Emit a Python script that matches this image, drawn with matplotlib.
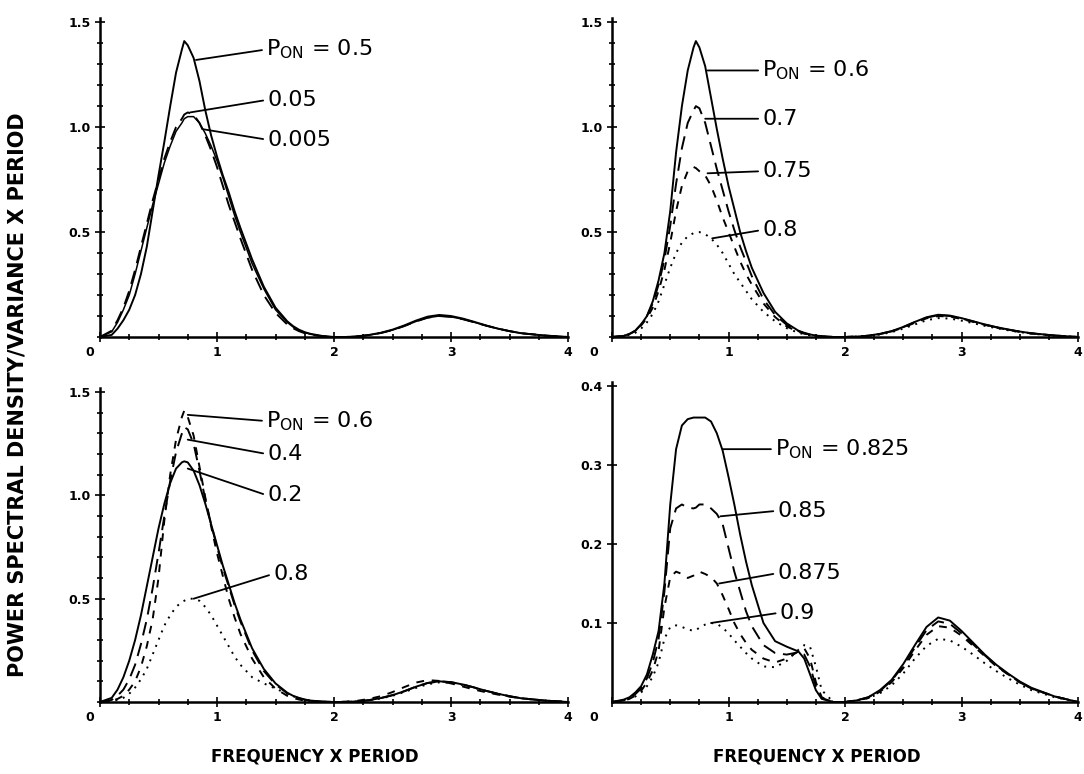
import matplotlib
matplotlib.use("Agg")
import matplotlib.pyplot as plt
import matplotlib.transforms as mtransforms
from matplotlib.ticker import MultipleLocator

plt.rcParams['font.family'] = ['DejaVu Sans']

# ---------------- data ----------------
F_LOW = [0, 0.1, 0.15, 0.2, 0.25, 0.3, 0.35, 0.4, 0.45, 0.5,
         0.55, 0.6, 0.65, 0.7, 0.72, 0.75, 0.8, 0.85, 0.9, 0.95,
         1.0, 1.05, 1.1, 1.15, 1.2, 1.3, 1.4, 1.5, 1.6, 1.65,
         1.7, 1.75, 1.8, 1.9, 2.0]
F_HIGH = [2.1, 2.2, 2.3, 2.4, 2.5, 2.6, 2.7, 2.8, 2.9, 3.0,
          3.1, 3.2, 3.3, 3.4, 3.5, 3.6, 3.8, 4.0]

# top-left panel
TL_05_LOW = [0, 0.01, 0.04, 0.08, 0.13, 0.2, 0.3, 0.43, 0.6, 0.77,
             0.93, 1.1, 1.26, 1.37, 1.41, 1.39, 1.33, 1.22, 1.08, 0.96,
             0.86, 0.77, 0.69, 0.6, 0.52, 0.37, 0.24, 0.14, 0.075, 0.052,
             0.035, 0.023, 0.015, 0.005, 0]
TL_05_HIGH = [0, 0.003, 0.01, 0.02, 0.035, 0.055, 0.078, 0.097, 0.105, 0.1,
              0.088, 0.072, 0.055, 0.04, 0.028, 0.018, 0.007, 0]
TL_005_LOW = [0, 0.025, 0.07, 0.13, 0.2, 0.3, 0.41, 0.52, 0.63, 0.73,
              0.83, 0.91, 0.98, 1.02, 1.04, 1.05, 1.05, 1.02, 0.97, 0.91,
              0.84, 0.76, 0.67, 0.58, 0.5, 0.35, 0.23, 0.13, 0.07, 0.048,
              0.032, 0.021, 0.013, 0.004, 0]
TL_005_HIGH = [0, 0.003, 0.009, 0.019, 0.033, 0.052, 0.074, 0.092, 0.1, 0.096,
               0.085, 0.07, 0.054, 0.04, 0.028, 0.018, 0.007, 0]
TL_05B_LOW = [0, 0.03, 0.08, 0.14, 0.22, 0.32, 0.43, 0.54, 0.65, 0.75,
              0.85, 0.93, 1.0, 1.04, 1.06, 1.07, 1.06, 1.02, 0.96, 0.89,
              0.81, 0.72, 0.63, 0.55, 0.47, 0.32, 0.2, 0.115, 0.06, 0.042,
              0.028, 0.018, 0.011, 0.003, 0]
TL_05B_HIGH = [0, 0.003, 0.009, 0.019, 0.033, 0.052, 0.074, 0.092, 0.1, 0.096,
               0.085, 0.07, 0.054, 0.04, 0.028, 0.018, 0.007, 0]

# top-right panel (also P_ON = 0.6 in bottom-left)
P06_LOW = [0, 0.005, 0.015, 0.03, 0.06, 0.1, 0.17, 0.27, 0.4, 0.6,
           0.88, 1.1, 1.27, 1.38, 1.41, 1.38, 1.29, 1.14, 0.99, 0.85,
           0.72, 0.61, 0.5, 0.41, 0.33, 0.21, 0.12, 0.065, 0.03, 0.02,
           0.012, 0.007, 0.004, 0, 0]
P06_HIGH = [0.002, 0.006, 0.015, 0.028, 0.048, 0.072, 0.094, 0.106, 0.102, 0.09,
            0.075, 0.06, 0.047, 0.036, 0.026, 0.018, 0.007, 0]
TR_07_LOW = [0, 0.005, 0.015, 0.03, 0.06, 0.1, 0.16, 0.25, 0.37, 0.53,
             0.73, 0.9, 1.02, 1.08, 1.1, 1.09, 1.02, 0.91, 0.8, 0.7,
             0.6, 0.51, 0.43, 0.36, 0.29, 0.18, 0.105, 0.058, 0.028, 0.018,
             0.011, 0.006, 0.003, 0, 0]
TR_07_HIGH = [0.002, 0.006, 0.015, 0.027, 0.047, 0.071, 0.092, 0.104, 0.1, 0.088,
              0.074, 0.059, 0.046, 0.035, 0.025, 0.017, 0.007, 0]
TR_075_LOW = [0, 0.005, 0.014, 0.028, 0.055, 0.09, 0.14, 0.22, 0.32, 0.45,
              0.6, 0.72, 0.79, 0.81, 0.805, 0.79, 0.77, 0.72, 0.65, 0.57,
              0.5, 0.43, 0.36, 0.3, 0.25, 0.16, 0.095, 0.05, 0.025, 0.016,
              0.01, 0.006, 0.003, 0, 0]
TR_075_HIGH = [0.002, 0.006, 0.014, 0.026, 0.045, 0.068, 0.089, 0.1, 0.097, 0.086,
               0.072, 0.058, 0.045, 0.034, 0.025, 0.017, 0.007, 0]
TR_08_LOW = [0, 0.003, 0.01, 0.02, 0.04, 0.07, 0.11, 0.17, 0.25, 0.33,
             0.4, 0.45, 0.48, 0.495, 0.5, 0.5, 0.49, 0.47, 0.44, 0.4,
             0.35, 0.3, 0.26, 0.22, 0.18, 0.12, 0.075, 0.042, 0.02, 0.013,
             0.008, 0.005, 0.002, 0, 0]
TR_08_HIGH = [0.002, 0.005, 0.012, 0.023, 0.04, 0.06, 0.08, 0.09, 0.088, 0.078,
              0.066, 0.053, 0.042, 0.032, 0.023, 0.016, 0.006, 0]

# bottom-left panel
BL_02_LOW = [0, 0.02, 0.06, 0.12, 0.2, 0.3, 0.42, 0.56, 0.7, 0.84,
             0.96, 1.06, 1.13, 1.16, 1.165, 1.16, 1.12, 1.05, 0.96, 0.86,
             0.76, 0.66, 0.57, 0.48, 0.4, 0.26, 0.16, 0.09, 0.045, 0.03,
             0.02, 0.012, 0.007, 0.002, 0]
BL_02_HIGH = [0, 0.003, 0.009, 0.019, 0.033, 0.052, 0.074, 0.092, 0.1, 0.096,
              0.085, 0.07, 0.054, 0.04, 0.028, 0.018, 0.007, 0]
BL_04_LOW = [0, 0.01, 0.03, 0.06, 0.11, 0.18, 0.28, 0.4, 0.55, 0.72,
             0.9, 1.07, 1.21, 1.3, 1.33, 1.32, 1.25, 1.12, 0.98, 0.86,
             0.75, 0.65, 0.56, 0.47, 0.39, 0.25, 0.15, 0.085, 0.042, 0.028,
             0.018, 0.011, 0.006, 0.002, 0]
BL_04_HIGH = [0, 0.003, 0.009, 0.019, 0.033, 0.052, 0.074, 0.092, 0.1, 0.096,
              0.085, 0.07, 0.054, 0.04, 0.028, 0.018, 0.007, 0]
BL_08_LOW = [0, 0.003, 0.01, 0.02, 0.04, 0.07, 0.11, 0.16, 0.23, 0.3,
             0.37, 0.42, 0.46, 0.485, 0.49, 0.5, 0.5, 0.49, 0.46, 0.42,
             0.37, 0.32, 0.27, 0.22, 0.18, 0.12, 0.09, 0.065, 0.04, 0.028,
             0.018, 0.01, 0.005, 0.001, 0]
BL_08_HIGH = [0, 0.003, 0.008, 0.017, 0.03, 0.048, 0.068, 0.086, 0.095, 0.092,
              0.082, 0.068, 0.053, 0.04, 0.028, 0.018, 0.007, 0]

# bottom-right panel
BR_0825_LOW = [0, 0.003, 0.006, 0.012, 0.02, 0.035, 0.06, 0.09, 0.15, 0.25,
               0.32, 0.35, 0.358, 0.36, 0.36, 0.36, 0.36, 0.355, 0.34, 0.318,
               0.285, 0.25, 0.212, 0.178, 0.148, 0.1, 0.077, 0.07, 0.064, 0.055,
               0.035, 0.015, 0.004, 0, 0]
BR_0825_HIGH = [0.002, 0.006, 0.015, 0.028, 0.048, 0.072, 0.095, 0.107, 0.103, 0.09,
                0.075, 0.06, 0.047, 0.036, 0.026, 0.018, 0.007, 0]
BR_085_LOW = [0, 0.002, 0.005, 0.01, 0.017, 0.03, 0.05, 0.08, 0.14, 0.22,
              0.245, 0.25, 0.246, 0.245, 0.246, 0.25, 0.25, 0.245, 0.238, 0.225,
              0.195, 0.165, 0.14, 0.115, 0.096, 0.072, 0.062, 0.06, 0.063, 0.06,
              0.045, 0.02, 0.005, 0, 0]
BR_085_HIGH = [0.002, 0.006, 0.014, 0.027, 0.046, 0.069, 0.091, 0.102, 0.099, 0.087,
               0.073, 0.059, 0.046, 0.035, 0.025, 0.017, 0.007, 0]
BR_0875_LOW = [0, 0.002, 0.004, 0.008, 0.014, 0.025, 0.04, 0.065, 0.12, 0.158,
               0.165, 0.162, 0.157, 0.16, 0.162, 0.165, 0.162, 0.158, 0.15, 0.135,
               0.118, 0.1, 0.086, 0.075, 0.066, 0.055, 0.05, 0.055, 0.064, 0.068,
               0.055, 0.025, 0.006, 0, 0]
BR_0875_HIGH = [0.002, 0.005, 0.013, 0.025, 0.043, 0.065, 0.085, 0.096, 0.094, 0.084,
                0.071, 0.058, 0.045, 0.035, 0.025, 0.017, 0.007, 0]
BR_09_LOW = [0, 0.002, 0.004, 0.007, 0.012, 0.02, 0.032, 0.05, 0.08, 0.095,
             0.097, 0.095, 0.092, 0.09, 0.091, 0.094, 0.098, 0.1, 0.099, 0.094,
             0.087, 0.078, 0.07, 0.062, 0.055, 0.045, 0.044, 0.052, 0.066, 0.072,
             0.07, 0.045, 0.015, 0, 0]
BR_09_HIGH = [0.002, 0.005, 0.011, 0.021, 0.036, 0.055, 0.071, 0.08, 0.078, 0.07,
              0.06, 0.049, 0.039, 0.03, 0.022, 0.015, 0.006, 0]

X_TICKS = [0, 1, 2, 3, 4]
Y_TICKS_BIG = [0.5, 1.0, 1.5]
Y_TICKS_SMALL = [0.1, 0.2, 0.3, 0.4]

XLABEL = 'FREQUENCY X PERIOD'
YLABEL = 'POWER SPECTRAL DENSITY/VARIANCE X PERIOD'

# ---------------- figure ----------------
W, H = 1084, 774
fig = plt.figure(figsize=(W / 100, H / 100), dpi=100)


def add_ax(x0, y_bot, x1, y_top):
    return fig.add_axes([x0 / W, 1 - y_bot / H, (x1 - x0) / W, (y_bot - y_top) / H])


SOLID = '-'
LONG = (0, (7, 4))
SHORT = (0, (4, 4))
DOT = (0, (1, 3))


def style(ax, ymax, yticks, yminor, zero_shift):
    ax.set_xlim(0, 4)
    ax.set_ylim(0, ymax)
    for s in ('top', 'right'):
        ax.spines[s].set_visible(False)
    for s in ('left', 'bottom'):
        ax.spines[s].set_linewidth(1.8)
    ax.set_xticks(X_TICKS)
    ax.set_xticklabels([str(t) for t in X_TICKS])
    ax.xaxis.set_minor_locator(MultipleLocator(0.25))
    ax.set_yticks(yticks)
    ax.set_yticklabels([f'{t:.1f}' for t in yticks])
    if yminor:
        ax.yaxis.set_minor_locator(MultipleLocator(yminor))
    ax.tick_params(which='both', direction='inout', width=1.2, color='black')
    ax.tick_params(which='major', length=7, labelsize=9, pad=3)
    ax.tick_params(which='minor', length=5)
    for lab in ax.get_xticklabels() + ax.get_yticklabels():
        lab.set_fontweight('bold')
    # the "0" label sits a little to the left of the origin
    t0 = ax.xaxis.get_major_ticks()[0].label1
    t0.set_transform(t0.get_transform() +
                     mtransforms.ScaledTranslation(-zero_shift / 100, 0, fig.dpi_scale_trans))
    ax.patch.set_alpha(0)


def curve(ax, low, high, ls, lw=1.4):
    ax.plot(F_LOW + F_HIGH, low + high, color='black', linestyle=ls, lw=lw,
            solid_capstyle='round', dash_capstyle='butt')


def label(ax, text, xy, xytext):
    ax.annotate(text, xy=xy, xytext=xytext, textcoords='data', fontsize=16,
                va='center', ha='left', color='black',
                arrowprops=dict(arrowstyle='-', lw=1.3, color='black',
                                relpos=(0, 0.5), shrinkA=1, shrinkB=0))


PON = r'P$_{\mathregular{ON}}$'

# top-left
ax1 = add_ax(100, 337, 568, 18)
style(ax1, 1.52, Y_TICKS_BIG, 0.1, 10)
curve(ax1, TL_05_LOW, TL_05_HIGH, SOLID)
curve(ax1, TL_005_LOW, TL_005_HIGH, SOLID, lw=1.1)
curve(ax1, TL_05B_LOW, TL_05B_HIGH, LONG)
label(ax1, PON + ' = 0.5', (0.82, 1.32), (1.42, 1.37))
label(ax1, '0.05', (0.77, 1.07), (1.43, 1.13))
label(ax1, '0.005', (0.88, 0.99), (1.43, 0.94))

# top-right
ax2 = add_ax(612, 337, 1078, 18)
style(ax2, 1.52, Y_TICKS_BIG, 0.1, 18)
curve(ax2, P06_LOW, P06_HIGH, SOLID)
curve(ax2, TR_07_LOW, TR_07_HIGH, LONG)
curve(ax2, TR_075_LOW, TR_075_HIGH, SHORT)
curve(ax2, TR_08_LOW, TR_08_HIGH, DOT)
label(ax2, PON + ' = 0.6', (0.82, 1.27), (1.29, 1.27))
label(ax2, '0.7', (0.80, 1.04), (1.29, 1.04))
label(ax2, '0.75', (0.82, 0.78), (1.29, 0.79))
label(ax2, '0.8', (0.86, 0.47), (1.29, 0.51))

# bottom-left
ax3 = add_ax(100, 702, 568, 388)
style(ax3, 1.52, Y_TICKS_BIG, 0.1, 10)
curve(ax3, BL_02_LOW, BL_02_HIGH, SOLID)
curve(ax3, BL_04_LOW, BL_04_HIGH, LONG)
curve(ax3, P06_LOW, P06_HIGH, SHORT)
curve(ax3, BL_08_LOW, BL_08_HIGH, DOT)
label(ax3, PON + ' = 0.6', (0.75, 1.39), (1.42, 1.36))
label(ax3, '0.4', (0.75, 1.27), (1.43, 1.20))
label(ax3, '0.2', (0.75, 1.13), (1.43, 1.00))
label(ax3, '0.8', (0.80, 0.50), (1.48, 0.62))

# bottom-right
ax4 = add_ax(612, 702, 1078, 382)
style(ax4, 0.405, Y_TICKS_SMALL, None, 18)
curve(ax4, BR_0825_LOW, BR_0825_HIGH, SOLID)
curve(ax4, BR_085_LOW, BR_085_HIGH, LONG)
curve(ax4, BR_0875_LOW, BR_0875_HIGH, SHORT)
curve(ax4, BR_09_LOW, BR_09_HIGH, DOT)
label(ax4, PON + ' = 0.825', (0.95, 0.32), (1.40, 0.32))
label(ax4, '0.85', (0.93, 0.235), (1.42, 0.242))
label(ax4, '0.875', (0.92, 0.150), (1.42, 0.163))
label(ax4, '0.9', (0.85, 0.100), (1.44, 0.113))

fig.text(18 / W, 0.49, YLABEL, rotation=90, ha='center', va='center',
         fontsize=15, fontweight='bold')
fig.text(315 / W, 1 - 756 / H, XLABEL, ha='center', va='center',
         fontsize=12, fontweight='bold')
fig.text(817 / W, 1 - 756 / H, XLABEL, ha='center', va='center',
         fontsize=12, fontweight='bold')

fig.savefig('out.png', dpi=100, facecolor='white')
